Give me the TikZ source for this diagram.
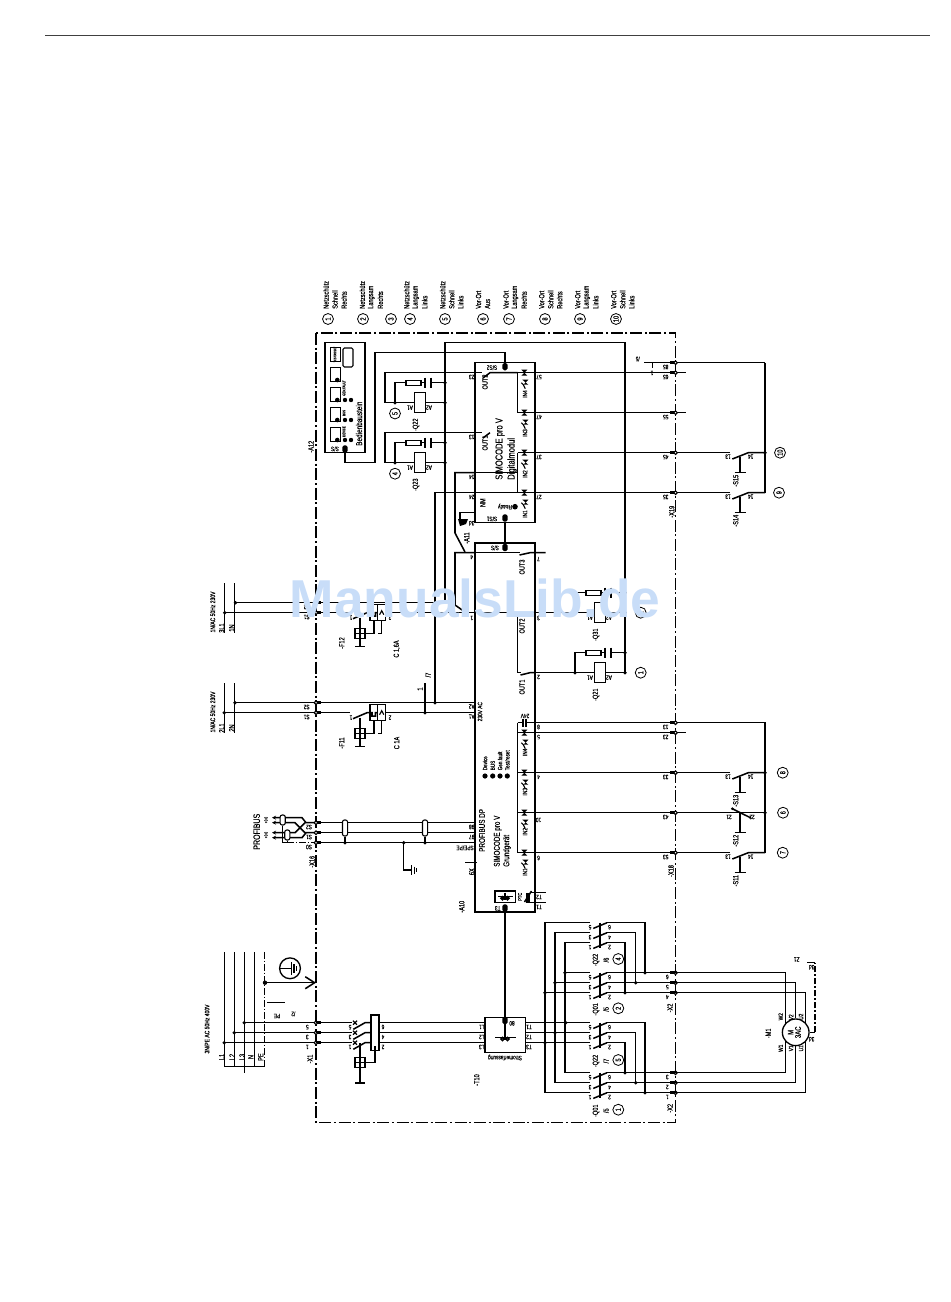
\documentclass[tikz,border=0pt]{standalone}
\usepackage{fontspec}
\setmainfont{Liberation Sans}[FakeStretch=0.75,FakeBold=0.25]
\newfontfamily\markfont{Liberation Sans}
\usetikzlibrary{arrows.meta}
\definecolor{markblue}{RGB}{200,221,248}
\tikzset{
  wire/.style={line width=1.15pt},
  thinw/.style={line width=.85pt},
  framel/.style={line width=1.2pt,dash pattern=on 9pt off 2pt on 1.5pt off 2pt},
  stub/.style={line width=2.4pt},
  modbox/.style={draw,line width=1.15pt,inner sep=0pt},
  coilbox/.style={draw,line width=1pt,inner sep=0pt,minimum width=7.8pt,minimum height=15pt},
  resbox/.style={draw,line width=.9pt,inner sep=0pt,minimum width=11.2pt,minimum height=3.8pt},
  plug/.style={fill=black,rounded corners=1.2pt,inner sep=0pt,minimum width=3.8pt,minimum height=5.4pt},
  ncirc/.style={draw,circle,fill=white,line width=.6pt,inner sep=0pt,minimum size=8.2pt,rotate=90,font=\fontsize{5.6}{6}\selectfont},
  capsule/.style={draw,fill=white,line width=.8pt,rounded corners=1.5pt,inner sep=0pt,minimum width=3.8pt,minimum height=12pt},
  lab/.style={rotate=90,inner sep=0pt,font=\fontsize{5.6}{6}\selectfont},
  labw/.style={lab,anchor=west},
  tl/.style={rotate=180,inner sep=0pt,font=\fontsize{4.8}{5}\selectfont},
}
% moving contact with push button
\newcommand{\pushb}[5]{%
\begin{scope}[shift={(0,#2)}]
\coordinate (#1a) at (730,0); \coordinate (#1b) at (748.3,0); \coordinate (#1c) at (765,0);
\draw[wire] (#5) -- (#1a);
\draw[wire] (732.3,6.3) -- (#1b) -- (#1c);
\draw[thinw] (740,4) -- (740,20);
\draw[wire] (734.7,20) -- (745.7,20);
\node[lab] (#1n) at (735.7,28) {-#1};
\node[tl] (#1t) at (728,4) {#3};
\node[tl] (#1u) at (750.7,4) {#4};
\end{scope}}
% coil with RC element
\newcommand{\coilrc}[3]{%
\begin{scope}[shift={(#2,#3)}]
\coordinate (#1l) at (0,0); \coordinate (#1r) at (50,0);
\coordinate (#1ql) at (0,-20); \coordinate (#1qr) at (50,-20);
\node[coilbox] (#1c) at (25,0) {};
\node[resbox] (#1z) at (18.5,-20) {};
\draw[wire] (#1l) -- (#1c); \draw[wire] (#1c) -- (#1r);
\draw[wire] (#1l) -- (#1ql) -- (#1z);
\draw[wire] (#1z) -- (30,-20);
\draw[wire] (30,-25) -- (30,-15);
\draw[wire] (36,-25) -- (36,-15);
\draw[wire] (36,-20) -- (#1qr);
\fill (#1l) circle (1.9); \fill (#1qr) circle (1.9); \fill (#1r) circle (1.9);
\node[tl] (#1a) at (15,5) {A1};
\node[tl] (#1b) at (34,5) {A2};
\node[lab] (#1n) at (21,22) {-#1};
\end{scope}}
% small breaker
\newcommand{\breaker}[2]{%
\begin{scope}[shift={(0,#2)}]
\coordinate (#1l) at (350,0); \coordinate (#1r) at (385.7,0);
\node[draw,line width=.9pt,inner sep=0pt,minimum width=11.8pt,minimum height=12pt] (#1box) at (377.8,0) {};
\draw[thinw] (377.6,-8) -- (377.6,8);
\draw[wire] (353,6) -- (367,0) -- (372,0) -- (372,3.5) -- (375.5,3.5) -- (375.5,0) -- (377.6,0);
\draw[thinw] (379.6,2) -- (381.7,-2) -- (383.8,2);
\draw[wire] (360,5) -- (360,34);
\draw[wire] (355,34) -- (365,34);
\node[draw,line width=.9pt,inner sep=0pt,minimum size=7.6pt] (#1sq) at (360,21) {};
\draw[thinw] (355,21) -- (365,21);
\draw[wire] (365,21) -- (374,21) -- (374,8);
\draw[wire] (378,21) -- (381.7,21) -- (381.7,8);
\node[tl] (#1t) at (351,5) {1};
\node[tl] (#1u) at (390,5) {2};
\end{scope}}
% three pole main contact
\newcommand{\mcontact}[2]{%
\begin{scope}[shift={(0,#2)}]
\foreach \k/\d in {1/0,2/10,3/20}{
\coordinate (#1l\k) at (590,\d); \coordinate (#1r\k) at (607,\d);
\draw[wire] (593.3,\d+5.7) -- (#1r\k);}
\draw[thinw] (600,0) -- (600,25);
\foreach \k/\d/\ta/\tb in {1/0/5/6,2/10/3/4,3/20/1/2}{
\node[tl] (#1t\k) at (590,\d+4.5) {\ta};
\node[tl] (#1u\k) at (609.5,\d+4.5) {\tb};}
\end{scope}}
% input of a module
\newcommand{\inled}[1]{%
\begin{scope}[shift={(524.3,#1)}]
\fill (-3,-3) -- (3,-3) -- (-3,3) -- (3,3) -- cycle;
\fill (-2,7) -- (4,7) -- (-1,12) -- (4,12) -- cycle;
\draw[thinw] (-3,10) -- (-1,12) -- (1,16);
\end{scope}}

\begin{document}
\begin{tikzpicture}[x=0.75pt,y=0.75pt,yscale=-1,xscale=1]
\useasboundingbox (0,0) rectangle (950,1302);
\coordinate (ruleL) at (45,35); \coordinate (ruleR) at (930,35);
\draw[line width=.7pt,black!75] (ruleL) -- (ruleR);
\draw[framel] (316,333) rectangle (675.5,1122.5);

% headings
\foreach \n/\x/\ta/\tb/\tc in {1/326/Netzschütz/Schnell/Rechts,2/362.3/Netzschütz/Langsam/Rechts,4/406.7/Netzschütz/Langsam/Links,5/442.7/Netzschütz/Schnell/Links,6/478.5/Vor-Ort/Aus/,7/506/Vor-Ort/Langsam/Rechts,8/541.7/Vor-Ort/Schnell/Rechts,9/577.7/Vor-Ort/Langsam/Links,10/613.7/Vor-Ort/Schnell/Links}{
\node[labw] (hd\n a) at (\x,309) {\ta};
\node[labw] (hd\n b) at ([xshift=6.75pt]\x,309) {\tb};
\node[labw] (hd\n c) at ([xshift=13.5pt]\x,309) {\tc};}
\foreach \n/\x in {1/328,2/363,3/391,4/410,5/445,6/483,7/509,8/545,9/580,10/616}
\node[ncirc] (hc\n) at (\x,319) {\n};

% terminals on the right side
\foreach \n/\y in {rs1/362.7,rs2/372.7,rs3/412.7,rs4/452.7,rs5/492.7,rb1/722.7,rb2/732.7,rb3/772.7,rb4/812.7,rb5/852.7,m1/972.7,m2/982.7,m3/992.7,m4/1072.7,m5/1082.7,m6/1092.7}
\coordinate (\n) at (675.5,\y);
% terminals on the left side
\foreach \n/\y in {tN1/602.7,tL1/612.7,tN2/702.7,tL2/712.7,pb1/822.7,pb2/832.7,pb3/842.7,a1/1022.7,a2/1032.7,a3/1042.7}
\coordinate (\n) at (316,\y);

% modules
\node[modbox,minimum width=45pt,minimum height=120pt] (dm) at (505,442.7) {};
\node[modbox,minimum width=45pt,minimum height=276.7pt] (gm) at (505,727.5) {};
\node[lab,anchor=west,font=\fontsize{7.6}{8}\selectfont] (dmt) at (500,480) {SIMOCODE pro V};
\node[lab,anchor=west,font=\fontsize{7.6}{8}\selectfont] (dmu) at (512,480) {Digitalmodul};
\node[lab,anchor=west,font=\fontsize{6.3}{7}\selectfont] (gmp) at (482,852) {PROFIBUS DP};
\node[lab,anchor=west,font=\fontsize{6.3}{7}\selectfont] (gmt) at (497.7,867) {SIMOCODE pro V};
\node[lab,anchor=west,font=\fontsize{6.3}{7}\selectfont] (gmu) at (507,867) {Grundgerät};
\foreach \x in {485,492.7,500,507.3}{\fill (\x,776) circle (2.6);}
\foreach \n/\x/\t in {a/485/Device,b/492.7/BUS,c/500/Gen.fault,d/507.3/{Test/reset}}
\node[labw,font=\fontsize{4.6}{5}\selectfont] (led\n) at (\x,770.5) {\t};
\node[lab,font=\fontsize{4.8}{5}\selectfont] (v230) at (480,711.7) {230V AC};

% panel
\node[modbox,minimum width=30pt,minimum height=82.5pt] (pan) at (345,397.7) {};
\node[draw,line width=.9pt,rounded corners=1pt,inner sep=0pt,minimum width=7.5pt,minimum height=14.2pt] (panf) at (348,357.5) {};
\foreach \n/\y/\h in {a/354.5/10,b/374/10.5,c/394/10.5,d/414/10.5,e/434/10.5}
\node[draw,line width=.7pt,inner sep=0pt,minimum width=7.5pt,minimum height=\h pt] (pk\n) at (335,\y) {};
\foreach \y in {380,400,420,440}{\fill (337.3,\y) circle (2.3);}
\foreach \y in {400,420,440}{\fill (345,\y) circle (2.2); \fill (351,\y) circle (2.2);}
\node[lab,font=\fontsize{2.6}{3}\selectfont] (ptest) at (335,354.5) {TEST/RESET};
\node[lab,anchor=west,font=\fontsize{2.8}{3}\selectfont] (pgf) at (344,396) {GEN.FAULT};
\node[lab,anchor=west,font=\fontsize{2.8}{3}\selectfont] (pbs) at (344,416) {BUS};
\node[lab,anchor=west,font=\fontsize{2.8}{3}\selectfont] (pdv) at (344,437) {DEVICE};
\node[labw,font=\fontsize{6.4}{7}\selectfont] (pant) at (359,446) {Bedienbaustein};
\node[lab] (pann) at (311,446.7) {-A12};

% panel and module links
\node[plug] (ppan) at (345,449) {};
\node[plug] (pd2) at (505,366.7) {};
\node[plug] (pd1) at (505,518) {};
\node[plug] (pg1) at (505,547.5) {};
\node[plug] (pg2) at (505,908) {};
\node[plug] (pt1) at (505,1020.5) {};
\coordinate (w1) at (345,462.7); \coordinate (w2) at (375,462.7); \coordinate (w3) at (375,352.7); \coordinate (w4) at (505,352.7);
\draw[wire] (ppan) -- (w1) -- (w2) -- (w3) -- (w4) -- (pd2);
\draw[wire] (pd1) -- (pg1);
\draw[wire] (pg2) -- (pt1);

% contactor coils
\coilrc{Q22}{395}{402.7}
\coilrc{Q23}{395}{462.7}
\coilrc{Q21}{575}{672.7}
\coilrc{Q31}{575}{612.7}
\coordinate (o1) at (385,372.7); \coordinate (o2) at (475,372.7);
\coordinate (o3) at (385,432.7); \coordinate (o4) at (475,432.7);
\draw[wire] (o2) -- (o1) -- (385,402.7) -- (Q22l);
\draw[wire] (o4) -- (o3) -- (385,462.7) -- (Q23l);
\node[ncirc] (c5b) at (395,413.5) {5};
\node[ncirc] (c4b) at (395,473.7) {4};
\node[ncirc] (c1b) at (640.7,672.7) {1};
\node[ncirc] (c2b) at (640.7,612.7) {2};

% common return
\coordinate (jN1) at (445,602.7); \coordinate (k1) at (445,342.7); \coordinate (k2) at (625,342.7);
\draw[wire] (jN1) -- (k1) -- (k2) -- (Q21r);

% outputs
\coordinate (e2) at (535,672.7);
\draw[wire] (e2) -- (Q21l);
\coordinate (n1) at (517.5,612.7); \coordinate (n2) at (517.5,672.7);
\draw[wire] (n1) -- (n2) -- (520.5,672.7);
\draw[wire] (520.5,675) -- (530,672.7) -- (e2);
\node[lab] (o1a) at (522,687) {OUT1};
\node[lab] (o2a) at (522,626) {OUT2};
\node[lab] (o3a) at (522,567) {OUT3};
\coordinate (n3) at (475,552.7); \coordinate (n4) at (545.7,552.7);
\draw[wire] (n3) -- (519.5,552.7);
\draw[wire] (519.5,555) -- (530,552.7) -- (n4);
\node[lab] (d1a) at (485,443) {OUT1};
\node[lab] (d2a) at (485,382) {OUT2};
\draw[wire] (o2) -- (482,372.7); \draw[wire] (483,378) -- (490,372.7) -- (517.5,372.7);
\draw[wire] (o4) -- (482,432.7); \draw[wire] (483,438) -- (490,432.7);
\coordinate (q1) at (475,472.7); \coordinate (q2) at (455,472.7); \coordinate (q3) at (455,533); \coordinate (q4) at (465,552);
\coordinate (q5) at (455,552.7); \coordinate (q6) at (455,605); \coordinate (q7) at (466,612.7);
\draw[wire] (q1) -- (q2) -- (q3) -- (q4);
\draw[wire] (n3) -- (q5) -- (q6) -- (q7);
\draw[wire] (q1) -- (517.5,472.7);
\node[lab] (a11) at (466.7,538) {-A11};
\node[lab] (a10) at (461.7,906.7) {-A10};

% ready and earth stub of the digital module
\fill (515,506.7) circle (2.8);
\node[tl] (rdy) at (505,506.7) {Ready};
\node[lab] (nmk) at (482.7,502.7) {NM};
\coordinate (g1) at (475,512.7); \coordinate (g2) at (460,512.7); \coordinate (g3) at (460,519);
\draw[wire] (g1) -- (g2) -- (g3);
\fill (458,519) -- (468,519) -- (466,524) -- (460,526) -- cycle;
\node[tl] (g3d) at (471.7,523.3) {3d};

% feeders
\foreach \x in {224.7,234.7}{\draw[wire] (\x,583) -- (\x,633); \draw[wire] (\x,683) -- (\x,733);}
\coordinate (lN1) at (235.5,602.7); \coordinate (lL1) at (224.7,612.7); \coordinate (lN2) at (235,702.7); \coordinate (lL2) at (224.3,712.7);
\foreach \p in {lN1,lL1,lN2,lL2}{\fill (\p) circle (1.9);}
\breaker{F12}{612.7}
\breaker{F11}{712.7}
\coordinate (jb1) at (475,702.7); \coordinate (jb2) at (475,712.7); \coordinate (jc) at (435,702.7); \coordinate (jd) at (425,712.7); \coordinate (je) at (425,682.7);
\draw[wire] (lN1) -- (jN1);
\draw[wire] (lL1) -- (F12l);
\draw[wire] (F12r) -- (Q31l);
\draw[wire] (lN2) -- (jb1);
\draw[wire] (lL2) -- (F11l);
\draw[wire] (F11r) -- (jb2);
\draw[wire] (jd) -- (je);
\fill (jc) circle (1.9); \fill (jd) circle (1.9);
\node[lab] (j1) at (420,689) {1};
\node[lab] (j7) at (428,675) {/7};
\foreach \n/\y/\t in {x1/612/{1N/AC 50Hz 230V},x2/712/{1N/AC 50Hz 230V}}
\node[lab,font=\fontsize{5}{6}\selectfont] (\n) at (212.7,\y) {\t};
\foreach \n/\x/\y/\t in {r1/221.7/628/3L1,r2/231.7/628/1N,r3/221.7/728/2L1,r4/231.7/728/2N,fa/341.7/643/-F12,fb/396.7/649/{C 1,6A},fc/341.7/743/-F11,fd/396.7/743/C 1A}
\node[lab] (\n) at (\x,\y) {\t};

% digital module inputs
\coordinate (c1) at (517.5,372.7); \coordinate (c2) at (517.5,412.7); \coordinate (c3) at (517.5,452.7); \coordinate (c4) at (517.5,492.7);
\draw[wire] (c2) -- (c1) -- (rs2);
\draw[wire] (c2) -- (rs3);
\draw[wire] (c3) -- (c4);
\draw[wire] (c3) -- (rs4);
\draw[wire] (jc) |- (rs5);
\coordinate (sw1) at (644,362.7); \coordinate (sw2) at (765,362.7);
\draw[wire] (sw1) -- (rs1) -- (sw2);
\draw[thinw] (652.3,363) -- (652.3,368);
\coordinate (rs2e) at (686,372.7); \coordinate (rs3e) at (686,412.7); \coordinate (rb2e) at (686,732.7);
\draw[wire] (rs2) -- (rs2e); \draw[wire] (rs3) -- (rs3e);
\pushb{S15}{452.7}{13}{14}{rs4}
\pushb{S14}{492.7}{13}{14}{rs5}
\draw[wire] (sw2) -- (S14c);
\fill (S15c) circle (1.9);
\node[ncirc] (c10b) at (780,452.7) {10};
\node[ncirc] (c9b) at (779,492.7) {9};

% basic unit inputs
\coordinate (b1) at (517.5,722.7); \coordinate (b2) at (517.5,732.7); \coordinate (b3) at (517.5,772.7); \coordinate (b4) at (517.5,812.7); \coordinate (b5) at (517.5,852.7);
\draw[wire] (b1) -- (b5);
\draw[wire] (b1) -- (523,722.7); \draw[wire] (526,722.7) -- (rb1);
\draw[wire] (523,719) -- (523,726.5); \draw[wire] (526,719) -- (526,726.5);
\foreach \n in {2,3,4,5}{\draw[wire] (b\n) -- (rb\n);}
\draw[wire] (rb2) -- (rb2e);
\foreach \r in {372.7,412.7,452.7,492.7,732.7,772.7,812.7,852.7}{\inled{\r}}
\pushb{S13}{772.7}{13}{14}{rb3}
\pushb{S11}{852.7}{13}{14}{rb5}
\coordinate (s12a) at (765,812.7);
\draw[wire] (rb4) -- (s12a);
\draw[wire] (732.3,808.7) -- (751,818);
\fill (732.3,808.7) circle (1.5);
\draw[thinw] (740,812.7) -- (740,832.7);
\draw[wire] (734.7,832.7) -- (745.7,832.7);
\node[lab] (S12n) at (735.7,840.7) {-S12};
\node[tl] (S12t) at (729,817) {21};
\node[tl] (S12u) at (752,817) {22};
\coordinate (sb0) at (765,722.7);
\draw[wire] (rb1) -- (sb0) -- (S11c);
\fill (S13c) circle (1.9); \fill (s12a) circle (1.9);
\node[ncirc] (c8b) at (782.7,772.7) {8};
\node[ncirc] (c6b) at (783,812.7) {6};
\node[ncirc] (c7b) at (782.7,852.7) {7};

% terminal marks
\foreach \n in {rs1,rs2,rs3,rs4,rs5,rb1,rb2,rb3,rb4,rb5,m1,m2,m3,m4,m5,m6}{
\draw[stub] ([xshift=-4pt]\n) -- (\n);
\draw[line width=.8pt,fill=white] (\n) circle (1.8);}
\foreach \n/\y/\t in {a/367/85,b/377/65,c/417/55,d/457/45,e/497/35,f/727/13,g/737/23,h/777/33,i/817/43,j/857/53}
\node[tl] (xr\n) at (665.7,\y) {\t};
\foreach \n/\y/\t in {a/377/57,b/417/47,c/457/37,d/497/27}
\node[tl] (dt\n) at (539,\y) {\t};
\foreach \n/\y/\t in {a/377/23,b/437/13,c/477/14,d/497/24}
\node[tl] (dl\n) at (471.7,\y) {\t};
\foreach \n/\y/\t in {a/559/7,b/618/3,c/677/2,d/727/8,e/737/5,f/777/4,g/820/10,h/858/6}
\node[tl] (gt\n) at (538.5,\y) {\t};
\foreach \n/\y/\t in {a/557/4,b/618/1,c/706.5/A2,d/716.5/A1,e/827/98,f/837/97}
\node[tl] (gl\n) at (471.7,\y) {\t};
\node[tl] (spe) at (465,848) {SPE/PE};
\node[lab] (sx9) at (471.7,871.7) {6X};
\foreach \n/\y/\t in {a/394/IN4,b/433/IN3,c/474/IN2,d/514/IN1,e/752.3/IN4,f/791.7/IN3,g/831.7/IN2,h/872/IN1}
\node[lab,font=\fontsize{4.8}{5}\selectfont] (in\n) at (525,\y) {\t};
\node[tl] (v24) at (525,716) {24V};
\node[lab] (x19) at (671.7,511.7) {-X19};
\node[lab] (x18) at (671,871) {-X18};
\node[tl] (k5) at (637.7,359) {/5};
\node[tl] (k51) at (652,373) {1};
\node[tl] (ss2) at (492,367.7) {S/S2};
\node[tl] (ss1) at (492,519) {S/S1};
\node[tl] (ss0) at (495,548) {S/S};
\node[tl] (ssp) at (335,449) {S/S};
\draw[wire] (465,862.7) -- (477,862.7);
\fill (475,862.7) circle (1.5);

% profibus
\coordinate (pe1) at (475,822.7); \coordinate (pe2) at (475,832.7); \coordinate (pe3) at (475,842.7);
\foreach \n in {1,2,3}{\draw[wire] (pb\n) -- (pe\n);}
\foreach \n/\x in {a/345,b/425}{
\node[capsule] (sh\n) at (\x,828) {};
\coordinate (sj\n) at (\x,842.7);
\draw[wire] (sh\n) -- (sj\n);
\fill (sj\n) circle (1.9);}
\coordinate (ej) at (403.7,842.7); \coordinate (ek) at (403.7,870); \coordinate (el) at (411.7,870);
\draw[wire] (ej) -- (ek) -- (el);
\fill (ej) circle (1.9);
\draw[wire] (411.7,865) -- (411.7,875);
\draw[thinw] (414.2,866.5) -- (414.2,873.5);
\draw[thinw] (416.7,868) -- (416.7,872);
\coordinate (tw1) at (272,817.7); \coordinate (tw2) at (272,822.7); \coordinate (tw3) at (272,832.7); \coordinate (tw4) at (272,837.7);
\draw[wire,{Stealth[length=3pt,width=3pt]}-] (tw1) -- (302,817.7) -- (306,822.7) -- (pb1);
\draw[wire,{Stealth[length=3pt,width=3pt]}-] (tw2) -- (295,822.7) -- (305,832.7) -- (pb2);
\draw[wire,{Stealth[length=3pt,width=3pt]}-] (tw3) -- (295,832.7) -- (305,822.7);
\draw[wire,{Stealth[length=3pt,width=3pt]}-] (tw4) -- (302,837.7) -- (306,832.7);
\node[capsule,minimum height=7.5pt] (sh1) at (282.7,820) {};
\node[capsule,minimum height=7.5pt] (sh2) at (287.3,835) {};
\coordinate (sb1) at (282.7,842.7); \coordinate (sb2) at (287.3,842.7);
\draw[thinw] (sh1) -- (sb1);
\draw[thinw] (sh2) -- (sb2);
\draw[thinw] (sb1) -- (sb2);
\draw[thinw,dash pattern=on 5pt off 1.5pt on 1pt off 1.5pt] (sb2) -- (pb3);
\node[lab,font=\fontsize{7}{8}\selectfont] (pbus) at (256.7,831.7) {PROFIBUS};
\node[lab,font=\fontsize{3.2}{4}\selectfont] (pvA) at (266,820) {+0.0};
\node[lab,font=\fontsize{3.2}{4}\selectfont] (pvB) at (266,835) {+0.0};
\foreach \n/\y/\t in {a/827/S2,b/837/S1,c/847/S0}
\node[tl] (pt\n) at (309,\y) {\t};
\node[lab] (x16) at (312,861.7) {-X16};
\foreach \n/\y/\t in {a/607/S2,b/617/S1,c/707/S2,d/717/S1}
\node[tl] (ft\n) at (306.7,\y) {\t};

% memory and thermistor
\node[modbox,minimum width=15.5pt,minimum height=8.5pt] (mem) at (505.3,896.7) {};
\draw[wire] (498,896.7) -- (513,896.7); \draw[wire] (505,892.5) -- (505,900);
\draw[wire] (502.5,898.3) circle (1.5); \draw[wire] (507.5,898.3) circle (1.5);
\node[tl] (t3l) at (497.7,908.3) {T3};
\coordinate (ta) at (535,892.7); \coordinate (tb) at (535,902.7);
\draw[wire] (ta) -- (545.7,892.7); \draw[wire] (tb) -- (545.7,902.7);
\fill (526,892.7) rectangle (530,902.7);
\draw[wire] (524.5,902) -- (531.5,891);
\draw[thinw] (530,892.7) -- (ta); \draw[thinw] (530,902.7) -- (tb);
\node[lab,font=\fontsize{4}{5}\selectfont] (ptc) at (520,896.7) {PTC};
\node[tl] (t2l) at (539,897) {T2};
\node[tl] (t1l) at (539,907) {T1};

% mains
\foreach \n/\x in {a/224.3,b/234.3,c/244.3,d/254.3}{\coordinate (ru\n) at (\x,952); \coordinate (rd\n) at (\x,1066.7); \draw[wire] (ru\n) -- (rd\n);}
\coordinate (rue) at (264.3,952); \coordinate (rde) at (264.3,1066.7);
\draw[thinw,dash pattern=on 5pt off 1.5pt on 1pt off 1.5pt] (rue) -- (rde);
\draw[wire] (rda) -- (rde);
\coordinate (rdt) at (244.3,1073);
\draw[wire] (rdc) -- (rdt);
\coordinate (l1) at (244.3,1022.7); \coordinate (l2) at (234.3,1032.7); \coordinate (l3) at (224.3,1042.7);
\foreach \p in {l1,l2,l3}{\fill (\p) circle (1.9);}
\coordinate (pej) at (265,982.7); \coordinate (pea) at (316,982.7);
\fill (pej) circle (2.2);
\draw[wire,-{Straight Barb[length=7pt,width=9pt]}] (pej) -- (pea);
\node[draw,circle,line width=1pt,inner sep=0pt,minimum size=15.6pt] (pec) at (290,968.3) {};
\draw[thinw] (279,968.3) -- (291.5,968.3);
\draw[wire] (291.5,962) -- (291.5,975);
\draw[thinw] (294,964) -- (294,973);
\draw[thinw] (296.5,966) -- (296.5,971);
\coordinate (pta) at (267.3,1002.7); \coordinate (ptb) at (285,1002.7);
\draw[wire] (pta) -- (ptb);
\node[lab,font=\fontsize{5}{6}\selectfont] (mn) at (207,1029) {3N/PE AC 50Hz 400V};
\foreach \n/\x/\t in {a/221.7/L1,b/232/L2,c/242/L3,d/250.7/N,e/260.7/PE}
\node[lab] (ml\n) at (\x,1057) {\t};
\node[tl] (pet) at (277,1016) {PE};
\node[tl] (pe2t) at (293.3,1014) {/2};
\node[lab] (x1t) at (310,1059) {-X1};
\draw[wire] (l1) -- (a1); \draw[wire] (l2) -- (a2); \draw[wire] (l3) -- (a3);
\foreach \n/\t in {1/5,2/3,3/1}{
\node[tl] (xa\n) at (307.3,1017+10*\n) {\t};
\node[tl] (xb\n) at (350,1017+10*\n) {\t};}
\foreach \n/\t in {1/6,2/4,3/2}
\node[tl] (xc\n) at (383,1017+10*\n) {\t};
\foreach \n in {tN1,tL1,tN2,tL2,pb1,pb2,pb3,a1,a2,a3}{\draw[stub] (\n) -- ([xshift=4pt]\n); \draw[line width=.8pt,fill=white] (\n) circle (1.8);}
% motor protection switch
\node[draw,line width=.9pt,inner sep=0pt,minimum width=6pt,minimum height=26.7pt] (qm) at (375,1032.8) {};
\foreach \n/\y in {1/1022.7,2/1032.7,3/1042.7}{
\coordinate (qa\n) at (352,\y); \coordinate (qb\n) at (365,\y); \coordinate (qc\n) at (371,\y); \coordinate (qd\n) at (379,\y); \coordinate (qe\n) at (485,\y);
\draw[wire] (a\n) -- (qa\n);
\draw[wire] (353.3,\y+6.6) -- (qb\n) -- (qc\n);
\draw[wire] (qd\n) -- (qe\n);
\draw[thinw] (353,\y-2) -- (357,\y+2); \draw[thinw] (353,\y+2) -- (357,\y-2);}
\draw[wire] (360,1043) -- (360,1083);
\draw[wire] (355,1083) -- (365,1083);
\node[draw,line width=.9pt,inner sep=0pt,minimum size=7.6pt] (qsq) at (360,1062.7) {};
\draw[thinw] (355,1062.7) -- (365,1062.7);
\draw[wire] (qsq) -- (375,1062.7) -- (375,1046.2);
% current transformer
\node[modbox,minimum width=30.5pt,minimum height=26.5pt] (t10) at (505.3,1035) {};
\draw[wire] (495,1037.3) -- (515.5,1037.3); \draw[wire] (505,1023) -- (505,1040);
\draw[wire] (502.5,1039) circle (1.6); \draw[wire] (507.5,1039) circle (1.6);
\node[tl] (t80) at (512,1023.3) {80};
\node[tl] (t10a) at (505,1057.5) {Stromerfassung};
\node[lab] (t10n) at (476.7,1080) {-T10};
\foreach \n/\y in {1/1027,2/1037,3/1047}{
\node[tl] (tla\n) at (481.7,\y) {L\n};
\node[tl] (tlb\n) at (529,\y) {T\n};}

% reversing contacts
\mcontact{qw}{922.7}
\mcontact{qx}{972.7}
\mcontact{qy}{1022.7}
\mcontact{qz}{1072.7}
\foreach \n/\y/\s/\u/\c in {a/960/-Q22/{/6}/4,b/1009.3/-Q01/{/5}/2,c/1061/-Q22/{/7}/5,d/1110.7/-Q01/{/5}/1}{
\node[lab] (rq\n) at (596,\y) {\s};
\node[lab] (rr\n) at (606,\y) {\u};
\node[ncirc] (rc\n) at (618.3,\y-1) {\c};}
\coordinate (f1) at (525.7,1022.7); \coordinate (f2) at (525.7,1032.7); \coordinate (f3) at (525.7,1042.7);
\coordinate (v1) at (565.7,1022.7); \coordinate (v2) at (555,1032.7); \coordinate (v3) at (545,1042.7);
\draw[wire] (f1) -- (qyl1); \draw[wire] (f2) -- (qyl2); \draw[wire] (f3) -- (qyl3);
% left bus bars
\draw[wire] (qwl1) -- (545,922.7) -- (545,1092.7) -- (qzl3);
\draw[wire] (qwl2) -- (555,932.7) -- (555,1082.7) -- (qzl2);
\draw[wire] (qwl3) -- (565,942.7) -- (565,1072.7) -- (qzl1);
\draw[wire] (565,972.7) -- (qxl1); \draw[wire] (555,982.7) -- (qxl2); \draw[wire] (545,992.7) -- (qxl3);
\fill (565,972.7) circle (1.9); \fill (555,982.7) circle (1.9); \fill (545,992.7) circle (1.9);
\fill (v1) circle (1.9); \fill (v2) circle (1.9); \fill (v3) circle (1.9);
% right bus bars
\draw[wire] (qwr1) -- (645,922.7) -- (645,972.7);
\draw[wire] (qwr2) -- (635.7,932.7) -- (635.7,982.7);
\draw[wire] (qwr3) -- (625,942.7) -- (625,992.7);
\draw[wire] (qyr1) -- (645,1022.7) -- (645,1092.7);
\draw[wire] (qyr2) -- (635.7,1032.7) -- (635.7,1082.7);
\draw[wire] (qyr3) -- (625,1042.7) -- (625,1072.7);
\draw[wire] (qxr1) -- (m1); \draw[wire] (qxr2) -- (m2); \draw[wire] (qxr3) -- (m3);
\draw[wire] (qzr1) -- (m4); \draw[wire] (qzr2) -- (m5); \draw[wire] (qzr3) -- (m6);
\fill (645,972.7) circle (1.9); \fill (635.7,982.7) circle (1.9); \fill (625,992.7) circle (1.9);
\fill (625,1072.7) circle (1.9); \fill (635.7,1082.7) circle (1.9); \fill (645,1092.7) circle (1.9);
\foreach \n/\y/\t in {a/977/6,b/987/5,c/997/4,d/1077/3,e/1087/2,f/1097/1}
\node[tl] (mt\n) at (667.3,\y) {\t};
\node[lab] (x2a) at (670,1008) {-X2};
\node[lab] (x2b) at (670,1108.3) {-X2};

% motor
\node[draw,circle,fill=white,line width=1pt,inner sep=0pt,minimum size=20pt] (mot) at (795.7,1032.3) {};
\draw[wire] (m1) -- (785.7,972.7) -- (785.7,1024);
\draw[wire] (m2) -- (795.7,982.7) -- (mot);
\draw[wire] (m3) -- (805.7,992.7) -- (805.7,1024);
\draw[wire] (m4) -- (785.7,1072.7) -- (785.7,1041);
\draw[wire] (m5) -- (795.7,1082.7) -- (mot);
\draw[wire] (m6) -- (805.7,1092.7) -- (805.7,1041);
\node[lab,font=\fontsize{6}{6}\selectfont] (mm) at (790.7,1032.3) {M};
\node[lab,font=\fontsize{6}{6}\selectfont] (mac) at (798,1032.3) {3AC};
\coordinate (mp1) at (815,1032.3); \coordinate (mp2) at (815,962.7); \coordinate (mp3) at (806.7,962.7);
\draw[wire] (mot) -- (mp1);
\draw[wire,dash pattern=on 5pt off 1.5pt on 1pt off 1.5pt] (mp1) -- (mp2);
\draw[thinw] (mp2) -- (mp3);
\foreach \n/\x/\y/\t in {a/780.7/1016.7/W2,b/791/1017.3/V2,c/801/1016.7/U2,d/780.7/1048.3/W1,e/791/1048.3/V1,f/801/1048.3/U1}
\node[lab,font=\fontsize{4.8}{5}\selectfont] (mw\n) at (\x,\y) {\t};
\node[lab] (m1t) at (768.3,1033.3) {-M1};
\node[tl] (z1) at (796.7,959.3) {Z1};
\node[tl] (z2) at (811.7,967.3) {3d};
\node[tl] (z3) at (811.7,1039.3) {3d};

% overprint
\node[anchor=base,inner sep=0pt,text=markblue,font=\markfont\bfseries\fontsize{40}{40}\selectfont] (mark) at (475,617) {ManualsLib.de};
\end{tikzpicture}
\end{document}
